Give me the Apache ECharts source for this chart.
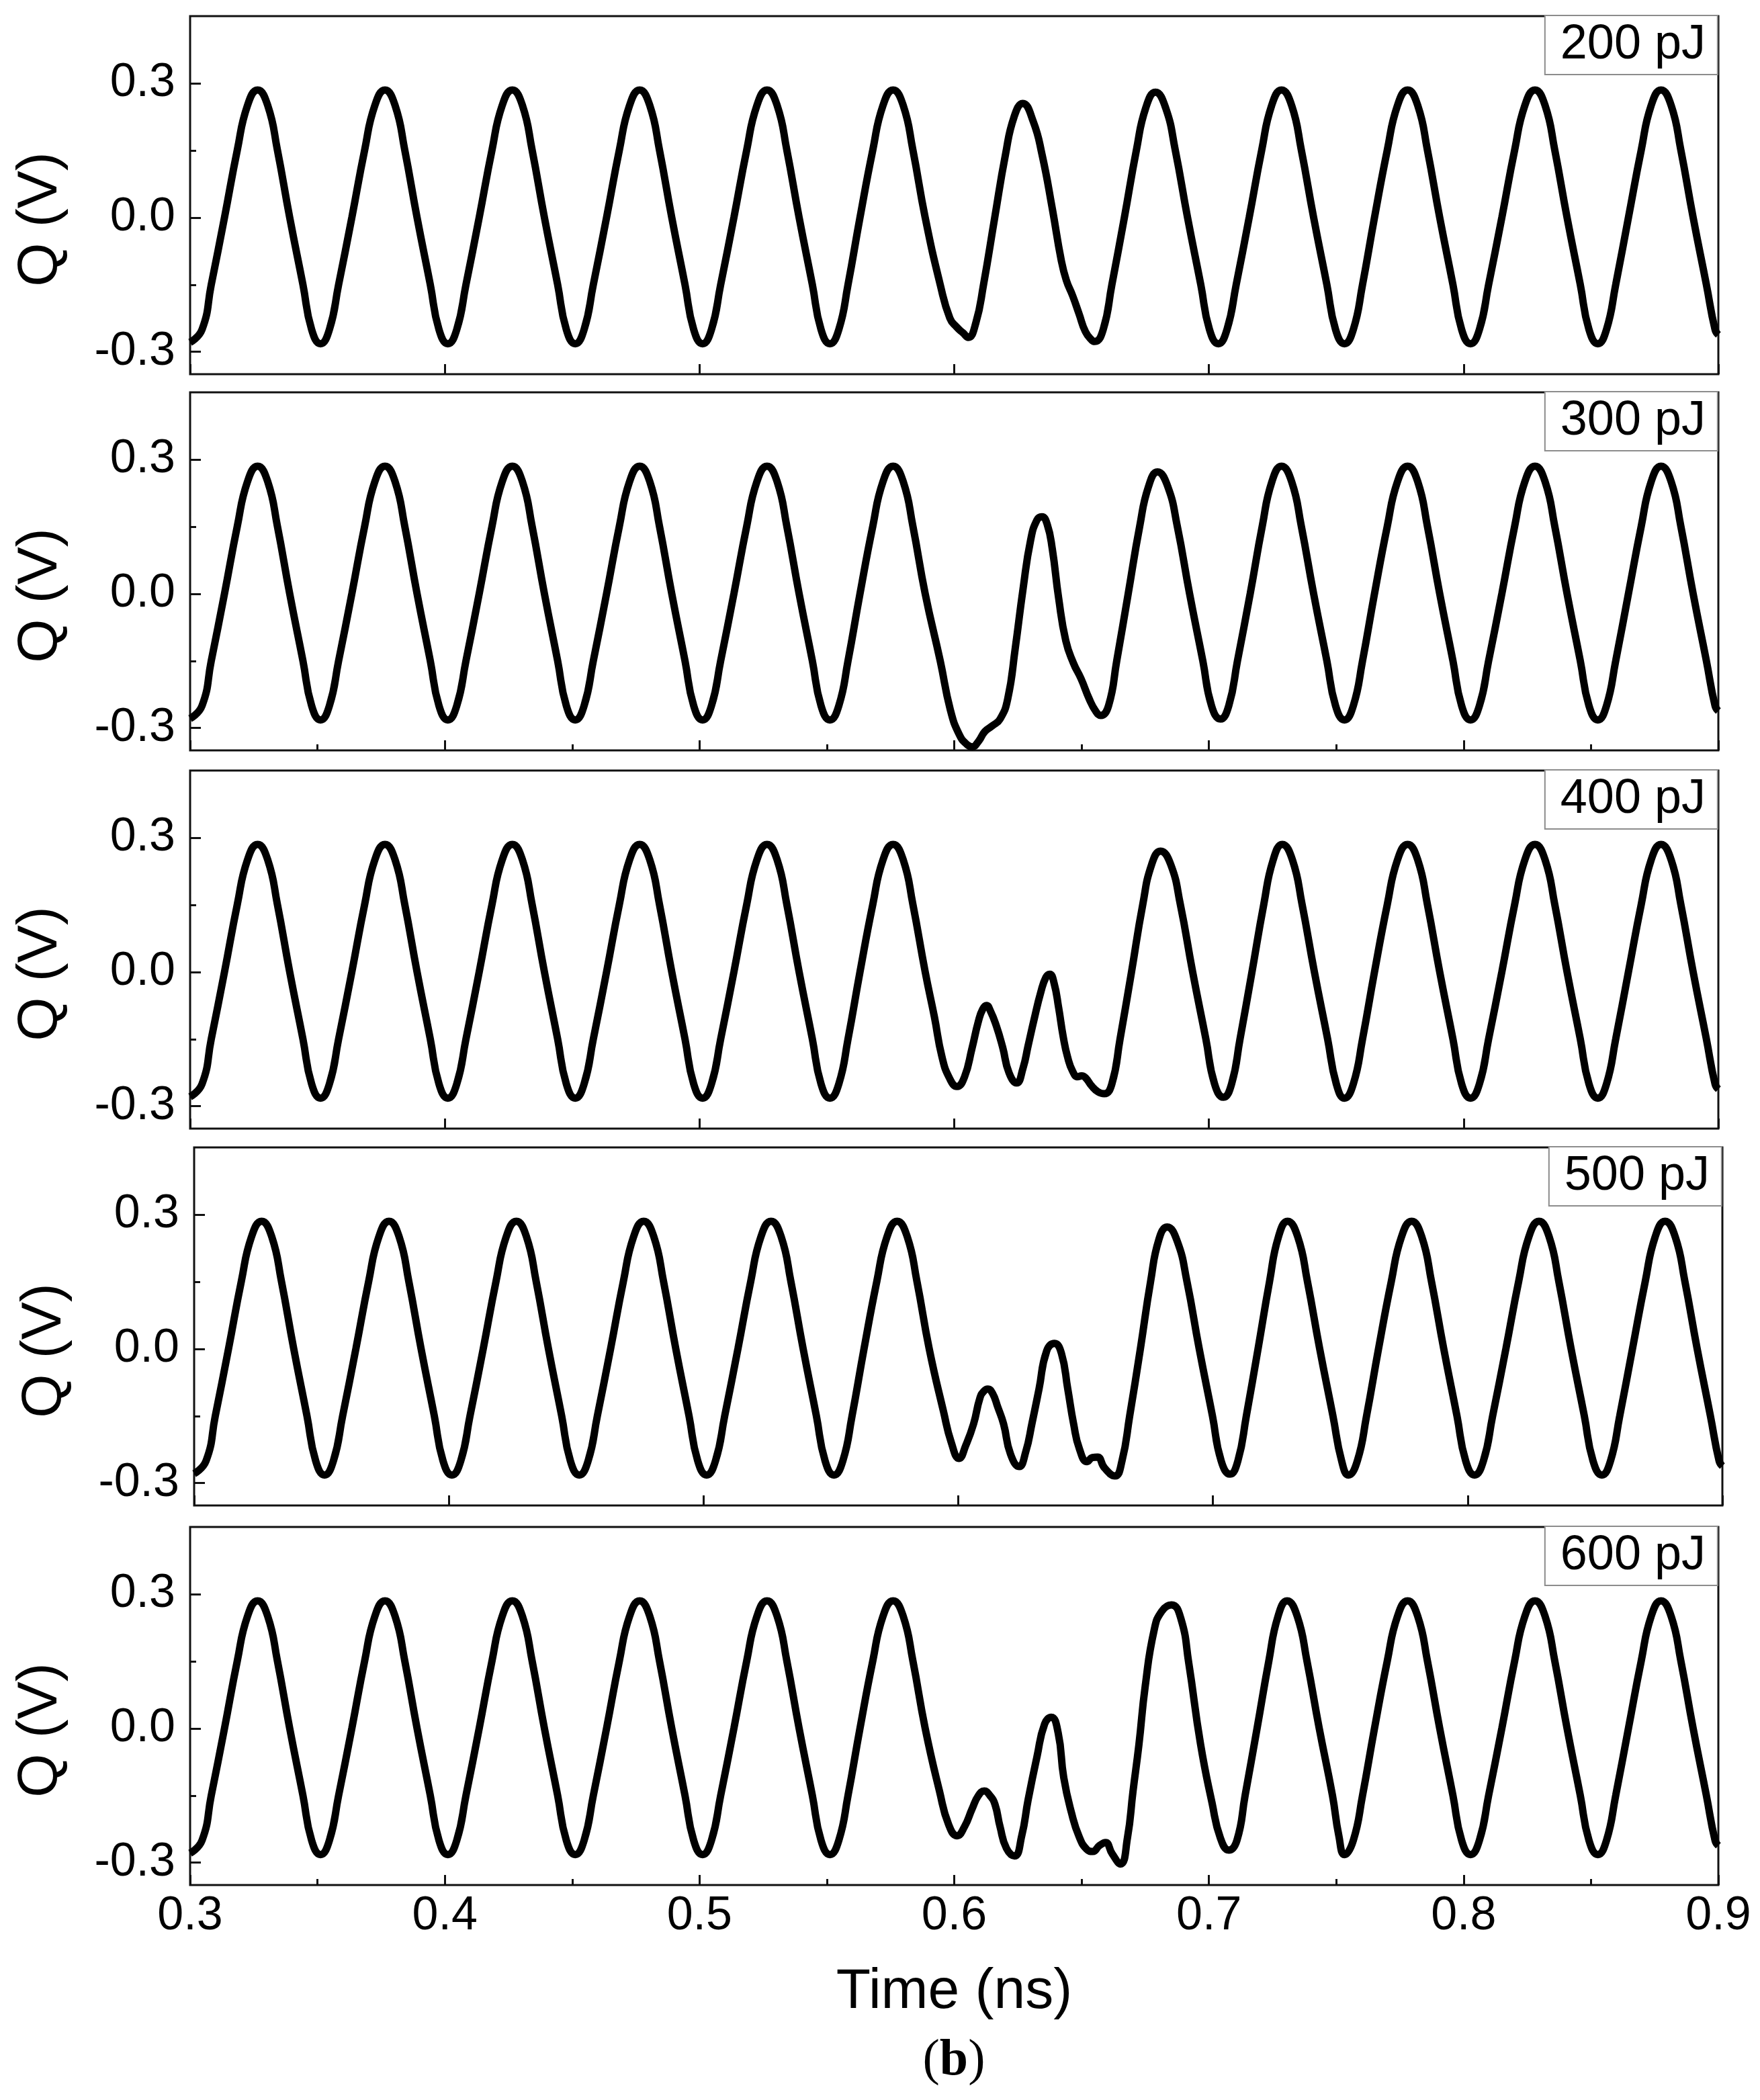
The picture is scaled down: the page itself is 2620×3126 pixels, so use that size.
<!DOCTYPE html>
<html>
<head>
<meta charset="utf-8">
<script src="https://cdn.jsdelivr.net/npm/echarts@6/dist/echarts.min.js"></script>
<style>
html,body{margin:0;padding:0;background:#fff;}
#chart{width:2620px;height:3126px;}
</style>
</head>
<body>
<div id="chart"></div>
<script>
// ---- data (time in ns, Q in V) ----
const panelLabels = ['200 pJ', '300 pJ', '400 pJ', '500 pJ', '600 pJ'];
const xTickLabels = ['0.3', '0.4', '0.5', '0.6', '0.7', '0.8', '0.9'];
const yTickValues = [-0.3, 0.0, 0.3];

// regular oscillation before the disturbance (shared by all panels)
const headWave = [
  [0.3000,-0.279],[0.3047,-0.25],[0.3083,-0.15],
  [0.3135,0],[0.3185,0.15],[0.3225,0.25],[0.3265,0.285],[0.3305,0.25],[0.3343,0.15],[0.3391,0],[0.3443,-0.15],[0.3477,-0.25],[0.3512,-0.282],[0.3547,-0.25],[0.3583,-0.15],
  [0.3635,0],[0.3685,0.15],[0.3725,0.25],[0.3765,0.285],[0.3805,0.25],[0.3843,0.15],[0.3891,0],[0.3943,-0.15],[0.3977,-0.25],[0.4012,-0.282],[0.4047,-0.25],[0.4083,-0.15],
  [0.4135,0],[0.4185,0.15],[0.4225,0.25],[0.4265,0.285],[0.4305,0.25],[0.4343,0.15],[0.4391,0],[0.4443,-0.15],[0.4477,-0.25],[0.4512,-0.282],[0.4547,-0.25],[0.4583,-0.15],
  [0.4635,0],[0.4685,0.15],[0.4725,0.25],[0.4765,0.285],[0.4805,0.25],[0.4843,0.15],[0.4891,0],[0.4943,-0.15],[0.4977,-0.25],[0.5012,-0.282],[0.5047,-0.25],[0.5083,-0.15],
  [0.5135,0],[0.5185,0.15],[0.5225,0.25],[0.5265,0.285],[0.5305,0.25],[0.5343,0.15],[0.5391,0],[0.5443,-0.15],[0.5477,-0.25],[0.5512,-0.282],[0.5547,-0.25],[0.5583,-0.15],
  [0.5630,0],[0.5680,0.15],[0.5720,0.25],[0.5760,0.285]
];

// disturbed section of each panel
const wave200 = [
  [0.5800,0.25],[0.5838,0.15],[0.5886,0.0],[0.5945,-0.15],[0.5983,-0.225],[0.6010,-0.245],[0.6035,-0.258],[0.6055,-0.268],
  [0.6085,-0.235],[0.6115,-0.15],[0.6159,0.0],[0.6201,0.14],[0.6235,0.225],[0.6269,0.255],[0.6310,0.215],[0.6345,0.14],
  [0.6385,0.02],[0.6420,-0.095],[0.6440,-0.14],[0.6465,-0.175],[0.6490,-0.215],[0.6515,-0.255],[0.6540,-0.274],[0.6552,-0.277],
  [0.6585,-0.25],[0.6619,-0.15],[0.6668,0.0],[0.6715,0.15],[0.6752,0.245],[0.6790,0.28],
  [0.6830,0.245],[0.6868,0.15],[0.6916,0.0],[0.6968,-0.15],[0.7002,-0.25],[0.7037,-0.282],
  [0.7071,-0.25],[0.7107,-0.15],[0.7158,0.0],[0.7207,0.15],[0.7246,0.25],[0.7285,0.285],
  [0.7325,0.25],[0.7363,0.15],[0.7411,0.0],[0.7463,-0.15],[0.7497,-0.25]
];
const wave300 = [
  [0.5800,0.25],[0.5838,0.15],[0.5886,0.0],[0.5945,-0.15],[0.5985,-0.26],[0.6020,-0.315],[0.6050,-0.337],[0.6070,-0.342],
  [0.6095,-0.33],[0.6120,-0.308],[0.6150,-0.295],[0.6180,-0.28],[0.6210,-0.235],[0.6240,-0.12],[0.6270,0.01],[0.6300,0.12],
  [0.6325,0.165],[0.6344,0.172],[0.6365,0.155],[0.6385,0.10],[0.6410,-0.01],[0.6438,-0.105],[0.6468,-0.155],[0.6498,-0.19],
  [0.6530,-0.235],[0.6555,-0.262],[0.6575,-0.272],
  [0.6606,-0.25],[0.6638,-0.15],[0.6683,0.0],[0.6728,0.15],[0.6763,0.24],[0.6798,0.272],
  [0.6838,0.24],[0.6876,0.15],[0.6924,0.0],[0.6976,-0.15],[0.7010,-0.25],[0.7045,-0.28],
  [0.7078,-0.25],[0.7112,-0.15],[0.7162,0.0],[0.7209,0.15],[0.7247,0.25],[0.7285,0.285],
  [0.7325,0.25],[0.7363,0.15],[0.7411,0.0],[0.7463,-0.15],[0.7497,-0.25]
];
const wave400 = [
  [0.5800,0.25],[0.5838,0.15],[0.5886,0.0],[0.5922,-0.10],[0.5952,-0.19],[0.5982,-0.238],[0.6011,-0.256],[0.6040,-0.235],
  [0.6070,-0.17],[0.6095,-0.11],[0.6112,-0.083],[0.6127,-0.075],[0.6142,-0.087],[0.6165,-0.12],[0.6190,-0.168],[0.6215,-0.225],
  [0.6245,-0.248],[0.6270,-0.215],[0.6290,-0.165],[0.6314,-0.105],[0.6340,-0.045],[0.6360,-0.012],[0.6375,-0.005],[0.6392,-0.025],
  [0.6410,-0.08],[0.6428,-0.145],[0.6445,-0.19],[0.6465,-0.222],[0.6485,-0.234],[0.6500,-0.232],[0.6515,-0.236],[0.6540,-0.255],
  [0.6565,-0.268],[0.6589,-0.272],
  [0.6619,-0.25],[0.6651,-0.15],[0.6696,0.0],[0.6740,0.15],[0.6775,0.24],[0.6810,0.27],
  [0.6850,0.24],[0.6888,0.15],[0.6936,0.0],[0.6988,-0.15],[0.7022,-0.25],[0.7057,-0.28],
  [0.7089,-0.25],[0.7122,-0.15],[0.7169,0.0],[0.7215,0.15],[0.7252,0.25],[0.7288,0.285],
  [0.7328,0.25],[0.7366,0.15],[0.7414,0.0],[0.7466,-0.15],[0.7500,-0.25]
];
const wave500 = [
  [0.5800,0.25],[0.5838,0.15],[0.5886,0.0],[0.5942,-0.14],[0.5973,-0.21],[0.6003,-0.245],[0.6030,-0.215],[0.6060,-0.168],
  [0.6085,-0.11],[0.6100,-0.095],[0.6116,-0.09],[0.6135,-0.10],[0.6155,-0.13],[0.6178,-0.168],[0.6205,-0.235],[0.6239,-0.263],
  [0.6265,-0.23],[0.6290,-0.165],[0.6317,-0.09],[0.6347,-0.005],[0.6378,0.012],[0.6405,-0.01],[0.6430,-0.09],[0.6453,-0.168],
  [0.6476,-0.224],[0.6506,-0.252],[0.6527,-0.243],[0.6547,-0.242],[0.6574,-0.266],[0.6615,-0.284],
  [0.6643,-0.25],[0.6673,-0.15],[0.6715,0.0],[0.6755,0.15],[0.6788,0.245],[0.6820,0.272],
  [0.6860,0.24],[0.6898,0.15],[0.6946,0.0],[0.6998,-0.15],[0.7032,-0.25],[0.7067,-0.28],
  [0.7098,-0.25],[0.7131,-0.15],[0.7177,0.0],[0.7222,0.15],[0.7257,0.25],[0.7293,0.285],
  [0.7333,0.25],[0.7371,0.15],[0.7419,0.0],[0.7471,-0.15],[0.7505,-0.25]
];
const wave600 = [
  [0.5800,0.25],[0.5838,0.15],[0.5886,0.0],[0.5942,-0.14],[0.5978,-0.215],[0.6011,-0.24],[0.6040,-0.22],[0.6070,-0.18],
  [0.6095,-0.15],[0.6118,-0.14],[0.6140,-0.15],[0.6160,-0.17],[0.6180,-0.22],[0.6205,-0.268],[0.6237,-0.285],[0.6265,-0.24],
  [0.6290,-0.16],[0.6325,-0.063],[0.6355,0.01],[0.6381,0.025],[0.6408,-0.01],[0.6430,-0.11],[0.6461,-0.19],[0.6491,-0.243],
  [0.6520,-0.27],[0.6544,-0.275],[0.6570,-0.262],[0.6594,-0.255],[0.6620,-0.28],[0.6653,-0.303],[0.6680,-0.245],[0.6702,-0.14],
  [0.6725,-0.037],[0.6750,0.095],[0.6785,0.22],[0.6815,0.262],[0.6853,0.276],[0.6890,0.245],[0.6921,0.145],[0.6967,-0.035],
  [0.7012,-0.166],[0.7045,-0.245],[0.7078,-0.272],
  [0.7110,-0.25],[0.7142,-0.15],[0.7189,0.0],[0.7235,0.15],[0.7271,0.25],[0.7307,0.285],
  [0.7347,0.25],[0.7385,0.15],[0.7433,0.0],[0.7485,-0.15],[0.7510,-0.24]
];

// regular oscillation after the disturbance (shared by all panels)
const tailWave = [
  [0.7532,-0.282],[0.7567,-0.25],[0.7603,-0.15],[0.7650,0],[0.7700,0.15],[0.7740,0.25],[0.7780,0.285],[0.7820,0.25],[0.7858,0.15],[0.7906,0],[0.7958,-0.15],[0.7992,-0.25],[0.8027,-0.282],
  [0.8062,-0.25],[0.8098,-0.15],[0.8150,0],[0.8200,0.15],[0.8240,0.25],[0.8280,0.285],[0.8320,0.25],[0.8358,0.15],[0.8406,0],[0.8458,-0.15],[0.8492,-0.25],[0.8527,-0.282],
  [0.8561,-0.25],[0.8597,-0.15],[0.8647,0],[0.8697,0.15],[0.8736,0.25],[0.8775,0.285],[0.8815,0.25],[0.8853,0.15],[0.8901,0],[0.8953,-0.15],[0.8987,-0.25],[0.9000,-0.262]
];

const disturbed = [wave200, wave300, wave400, wave500, wave600];

// ---- layout ----
const FONT = '"Liberation Sans", Arial, sans-serif';
const W = 2620;
const panelTops = [24, 584, 1147, 1708, 2273];
const panelH = 533;
const panelLeft = [283, 283, 283, 289, 283];
const panelRight = [2558, 2558, 2558, 2564, 2558];
const minorX = [false, true, false, false, true];
const axisColor = '#111';

const grids = [], xAxes = [], yAxes = [], series = [], titles = [];
for (let i = 0; i < 5; i++) {
  grids.push({
    left: panelLeft[i], width: panelRight[i] - panelLeft[i], top: panelTops[i], height: panelH,
    show: true, borderColor: axisColor, borderWidth: 3, backgroundColor: 'transparent'
  });
  const last = i === 4;
  xAxes.push({
    gridIndex: i, type: 'value', min: 0.3, max: 0.9, interval: 0.1, position: 'bottom',
    axisLine: { show: false, onZero: false }, splitLine: { show: false },
    axisTick: { show: true, inside: true, length: 15, lineStyle: { color: axisColor, width: 3 } },
    minorTick: { show: minorX[i], splitNumber: 2, length: 9, lineStyle: { color: axisColor, width: 3 } },
    axisLabel: {
      show: last, fontSize: 70, fontFamily: FONT, color: '#000', margin: 12,
      formatter: v => xTickLabels[Math.round((v - 0.3) * 10)] || v.toFixed(1)
    },
    name: last ? 'Time (ns)' : '', nameLocation: 'middle', nameGap: 118,
    nameTextStyle: { fontSize: 84, fontFamily: FONT, color: '#000' }
  });
  yAxes.push({
    gridIndex: i, type: 'value', min: -0.35, max: 0.45,
    axisLine: { show: false, onZero: false }, splitLine: { show: false },
    axisTick: { show: true, inside: true, length: 16, customValues: yTickValues, lineStyle: { color: axisColor, width: 3 } },
    axisLabel: { customValues: yTickValues, fontSize: 70, fontFamily: FONT, color: '#000', margin: 22,
      formatter: v => v.toFixed(1) },
    name: 'Q (V)', nameLocation: 'middle', nameGap: 180,
    nameTextStyle: { fontSize: 84, fontFamily: FONT, color: '#000', padding: [0, 72, 0, 0] }
  });
  yAxes.push({
    gridIndex: i, type: 'value', min: -0.35, max: 0.45, position: 'left',
    axisLine: { show: false, onZero: false }, splitLine: { show: false }, axisLabel: { show: false },
    axisTick: { show: true, inside: true, length: 9, customValues: [-0.15, 0.15], lineStyle: { color: axisColor, width: 3 } }
  });
  series.push({
    type: 'line', xAxisIndex: i, yAxisIndex: 2 * i, showSymbol: false, smooth: 0.5, clip: true,
    lineStyle: { color: '#000', width: 11 },
    data: headWave.concat(disturbed[i], tailWave)
  });
  titles.push({
    text: panelLabels[i], right: W - panelRight[i] + 1, top: panelTops[i] - 1,
    borderColor: '#8c8c8c', borderWidth: 2, backgroundColor: '#fff',
    padding: [6, 18, 6, 23],
    textStyle: { fontSize: 72, fontWeight: 'normal', fontFamily: FONT, color: '#000', lineHeight: 76 }
  });
}

const chart = echarts.init(document.getElementById('chart'), null, { renderer: 'canvas' });
chart.setOption({
  backgroundColor: '#fff',
  animation: false,
  title: titles,
  grid: grids,
  xAxis: xAxes,
  yAxis: yAxes,
  series: series,
  graphic: [{
    type: 'text', x: 1420, y: 3068,
    style: {
      text: '{p|(}{b|b}{p|)}',
      align: 'center', verticalAlign: 'middle',
      textAlign: 'center', textVerticalAlign: 'middle',
      rich: {
        p: { fontFamily: '"Liberation Serif", "Times New Roman", serif', fontSize: 76, fill: '#000', color: '#000' },
        b: { fontFamily: '"Liberation Serif", "Times New Roman", serif', fontSize: 76, fontWeight: 'bold', fill: '#000', color: '#000' }
      }
    }
  }]
});
</script>
</body>
</html>
